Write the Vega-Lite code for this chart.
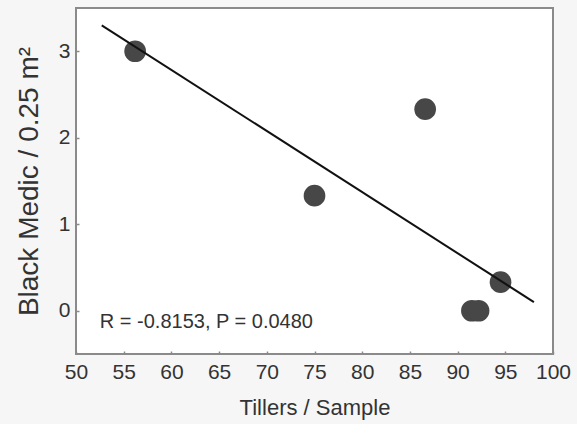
{
  "$schema": "https://vega.github.io/schema/vega-lite/v6.json",
  "width": 477,
  "height": 346,
  "autosize": "none",
  "padding": {"left": 76, "top": 8, "right": 24, "bottom": 70},
  "background": "#f6f6f6",
  "config": {
    "view": {"fill": "white", "stroke": "#8a8a8a", "strokeWidth": 2},
    "font": "Liberation Sans",
    "axis": {
      "grid": false,
      "domain": false,
      "tickSize": -3,
      "tickColor": "#8a8a8a",
      "tickWidth": 1.5,
      "zindex": 1,
      "labelFont": "Liberation Sans",
      "labelColor": "#333333",
      "labelFontSize": 21,
      "titleFont": "Liberation Sans",
      "titleColor": "#333333",
      "titleFontWeight": "normal"
    }
  },
  "datasets": {
    "points": [
      {"tillers": 56.2, "medic": 3.0},
      {"tillers": 75.0, "medic": 1.33},
      {"tillers": 86.6, "medic": 2.33},
      {"tillers": 91.5, "medic": 0.0},
      {"tillers": 92.2, "medic": 0.0},
      {"tillers": 94.5, "medic": 0.33}
    ],
    "fit": [
      {"tillers": 52.7, "medic": 3.3},
      {"tillers": 98.0, "medic": 0.1}
    ],
    "note": [
      {"tillers": 52.5, "medic": -0.2, "label": "R = -0.8153, P = 0.0480"}
    ]
  },
  "layer": [
    {
      "data": {"name": "points"},
      "mark": {"type": "circle", "size": 470, "color": "#474747", "opacity": 1},
      "encoding": {
        "x": {
          "field": "tillers", "type": "quantitative",
          "scale": {"domain": [50, 100], "nice": false, "zero": false},
          "axis": {
            "values": [50, 55, 60, 65, 70, 75, 80, 85, 90, 95, 100],
            "format": "d",
            "title": "Tillers / Sample",
            "titleFontSize": 22,
            "labelPadding": 10,
            "titleBaseline": "alphabetic",
            "titleY": 60,
            "labelFlush": false
          }
        },
        "y": {
          "field": "medic", "type": "quantitative",
          "scale": {"domain": [-0.5, 3.5], "nice": false, "zero": false},
          "axis": {
            "values": [0, 1, 2, 3],
            "format": "d",
            "title": "Black Medic / 0.25 m²",
            "titleFontSize": 28,
            "labelPadding": 9,
            "titleAngle": -90,
            "titleBaseline": "alphabetic",
            "titleX": -39,
            "titleAlign": "center",
            "labelFlush": false
          }
        }
      }
    },
    {
      "data": {"name": "fit"},
      "mark": {"type": "line", "color": "#111111", "strokeWidth": 2},
      "encoding": {
        "x": {"field": "tillers", "type": "quantitative"},
        "y": {"field": "medic", "type": "quantitative"}
      }
    },
    {
      "data": {"name": "note"},
      "mark": {"type": "text", "align": "left", "baseline": "alphabetic", "fontSize": 20, "color": "#333333", "font": "Liberation Sans"},
      "encoding": {
        "x": {"field": "tillers", "type": "quantitative"},
        "y": {"field": "medic", "type": "quantitative"},
        "text": {"field": "label"}
      }
    }
  ]
}
